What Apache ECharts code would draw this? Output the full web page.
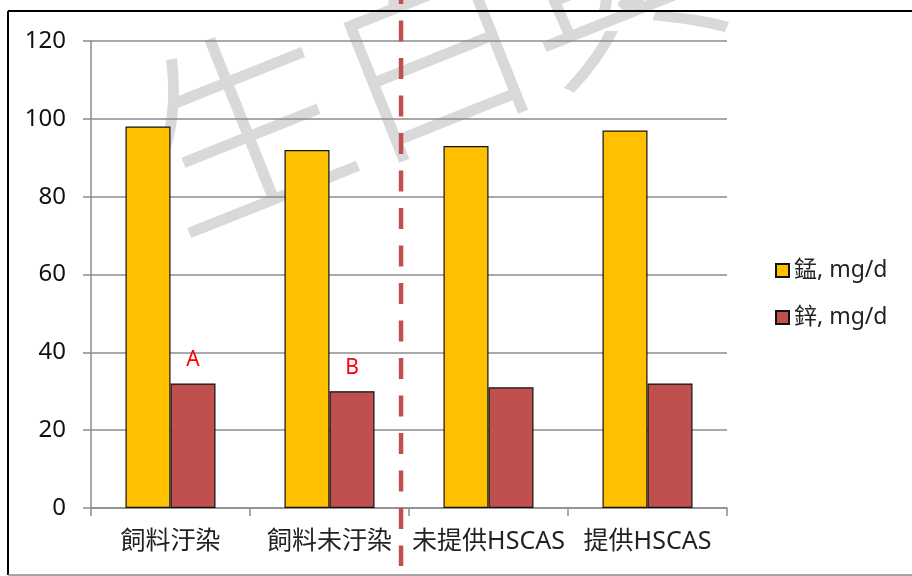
<!DOCTYPE html>
<html><head><meta charset="utf-8">
<script src="https://cdn.jsdelivr.net/npm/echarts@6/dist/echarts.min.js"></script>
<style>html,body{margin:0;padding:0;background:#fff}#c{width:912px;height:576px}</style>
</head><body><div id="c"></div>
<script>
const categories = ['飼料汙染', '飼料未汙染', '未提供HSCAS', '提供HSCAS'];
const manganese = [98, 92, 93, 97];
const zinc = [32, 30, 31, 32];
const zincMarks = ['A', 'B', '', ''];
const seriesNames = ['錳, mg/d', '鋅, mg/d'];
const yMin = 0, yMax = 120, yStep = 20;
const dividerAt = 1.45;   // category position of the dashed divider
const watermarkText = '生白與';

const FONT = "'Noto Sans', 'Noto Sans CJK TC', sans-serif";
const chart = echarts.init(document.getElementById('c'), null, {renderer: 'canvas'});

const option = {
  animation: false,
  backgroundColor: '#fff',
  textStyle: {fontFamily: FONT},
  grid: {left: 91, right: 185, top: 41, bottom: 68, containLabel: false},
  legend: {
    orient: 'vertical', left: 770, top: 254,
    itemWidth: 13, itemHeight: 13, itemGap: 24,
    icon: 'rect',
    textStyle: {fontFamily: FONT, fontSize: 23, color: '#222', lineHeight: 23, padding: [0, 0, 0, 0]},
    data: seriesNames
  },
  xAxis: {
    type: 'category', data: categories,
    axisLine: {lineStyle: {color: '#8c8c8c', width: 1.5}},
    axisTick: {show: true, length: 8, alignWithLabel: false, lineStyle: {color: '#8c8c8c', width: 1.5}},
    axisLabel: {color: '#222', fontSize: 25, margin: 21, fontFamily: FONT, interval: 0}
  },
  yAxis: {
    type: 'value', min: yMin, max: yMax, interval: yStep,
    axisLine: {show: true, lineStyle: {color: '#8c8c8c', width: 1.5}},
    axisTick: {show: true, length: 8, lineStyle: {color: '#8c8c8c', width: 1.5}},
    axisLabel: {color: '#111', fontSize: 24, margin: 25, fontFamily: FONT},
    splitLine: {show: true, lineStyle: {color: '#8c8c8c', width: 1.5}}
  },
  series: [
    {
      name: seriesNames[0], type: 'bar', data: manganese,
      barWidth: 45, barGap: '0%',
      itemStyle: {color: '#FFC000', borderColor: '#111', borderWidth: 1.2}
    },
    {
      name: seriesNames[1], type: 'bar', data: zinc,
      barWidth: 45,
      itemStyle: {color: '#C0504D', borderColor: '#111', borderWidth: 1.2},
      label: {
        show: true, position: 'top', distance: 13,
        formatter: p => zincMarks[p.dataIndex],
        color: '#FF0000', fontSize: 21, fontFamily: FONT
      }
    }
  ]
};
chart.setOption(option);

function drawOverlay() {
  const p1 = chart.convertToPixel({xAxisIndex: 0}, Math.floor(dividerAt));
  const p2 = chart.convertToPixel({xAxisIndex: 0}, Math.floor(dividerAt) + 1);
  const x = p1 + (p2 - p1) * (dividerAt - Math.floor(dividerAt));
  chart.setOption({
    graphic: [
      {
        type: 'text', z: -10, silent: true,
        x: 188, y: 255, rotation: 0.38,
        style: {text: watermarkText, fontSize: 200, fontFamily: "'Noto Sans CJK TC'", fontWeight: 'lighter',
                fill: '#d9d9d9', stroke: '#d9d9d9', lineWidth: 5, textVerticalAlign: 'bottom'}
      },
      {type: 'line', silent: true, z: 1,
       shape: {x1: 8, y1: 11, x2: 914, y2: 11}, style: {stroke: '#000', lineWidth: 2}},
      {type: 'line', silent: true, z: 1,
       shape: {x1: 8, y1: 11, x2: 8, y2: 575}, style: {stroke: '#000', lineWidth: 2}},
      {type: 'line', silent: true, z: 1,
       shape: {x1: 8, y1: 575, x2: 914, y2: 575}, style: {stroke: '#888', lineWidth: 1.5}},
      {type: 'line', silent: true, z: 100,
       shape: {x1: x, y1: -17, x2: x, y2: 566},
       style: {stroke: '#C0504D', lineWidth: 4.5, lineDash: [21, 16.5]}}
    ]
  });
}
drawOverlay();
</script>
</body></html>
